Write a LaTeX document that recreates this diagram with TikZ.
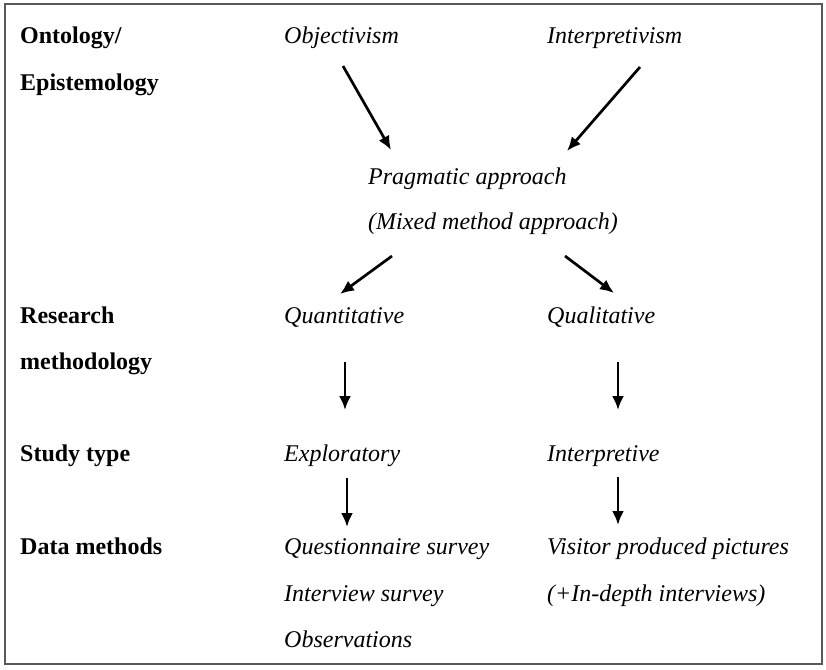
\documentclass[tikz,border=0pt]{standalone}
\usepackage{fontspec}
\setmainfont{Liberation Serif}
\usetikzlibrary{arrows.meta}
\begin{document}
\begin{tikzpicture}[x=1pt,y=-1pt,
  lab/.style={anchor=base west,inner sep=0pt,font=\fontsize{24}{28}\selectfont\bfseries},
  itm/.style={anchor=base west,inner sep=0pt,font=\fontsize{24}{28}\selectfont\itshape},
  arr/.style={line width=2.7pt,-{Latex[length=14pt,width=12pt]}}]
\useasboundingbox (0,0) rectangle (826,669);
\draw[line width=2pt,black!65] (4.5,4.5) rectangle (821.5,664);
% labels
\node[lab] (l1) at (20,44) {Ontology/};
\node[lab] (l2) at (20,90) {Epistemology};
\node[lab] (l3) at (20,323) {Research};
\node[lab] (l4) at (20,369) {methodology};
\node[lab] (l5) at (20,461) {Study type};
\node[lab] (l6) at (20,554) {Data methods};
% items
\node[itm] (obj) at (284,44) {Objectivism};
\node[itm] (int) at (547,44) {Interpretivism};
\node[itm] (prag) at (368,184) {Pragmatic approach};
\node[itm] (mix) at (368,229) {(Mixed method approach)};
\node[itm] (quan) at (284,323) {Quantitative};
\node[itm] (qual) at (547,323) {Qualitative};
\node[itm] (expl) at (284,461) {Exploratory};
\node[itm] (intp) at (547,461) {Interpretive};
\node[itm] (qs) at (284,554) {Questionnaire survey};
\node[itm] (is) at (284,601) {Interview survey};
\node[itm] (ob) at (284,647) {Observations};
\node[itm] (vp) at (547,554) {Visitor produced pictures};
\node[itm] (idi) at (547,601) {(+In-depth interviews)};
% arrow coordinates
\coordinate (a1s) at (343,66);  \coordinate (a1e) at (391,150);
\coordinate (a2s) at (640,67);  \coordinate (a2e) at (567,151);
\coordinate (a3s) at (392,256); \coordinate (a3e) at (340,294);
\coordinate (a4s) at (565,256); \coordinate (a4e) at (614,293);
\coordinate (a5s) at (345,362); \coordinate (a5e) at (345,410);
\coordinate (a6s) at (618,362); \coordinate (a6e) at (618,410);
\coordinate (a7s) at (347,478); \coordinate (a7e) at (347,527);
\coordinate (a8s) at (618,477); \coordinate (a8e) at (618,525);
\draw[arr] (a1s) -- (a1e);
\draw[arr] (a2s) -- (a2e);
\draw[arr] (a3s) -- (a3e);
\draw[arr] (a4s) -- (a4e);
\draw[arr] (a5s) -- (a5e);
\draw[arr] (a6s) -- (a6e);
\draw[arr] (a7s) -- (a7e);
\draw[arr] (a8s) -- (a8e);
\end{tikzpicture}
\end{document}
